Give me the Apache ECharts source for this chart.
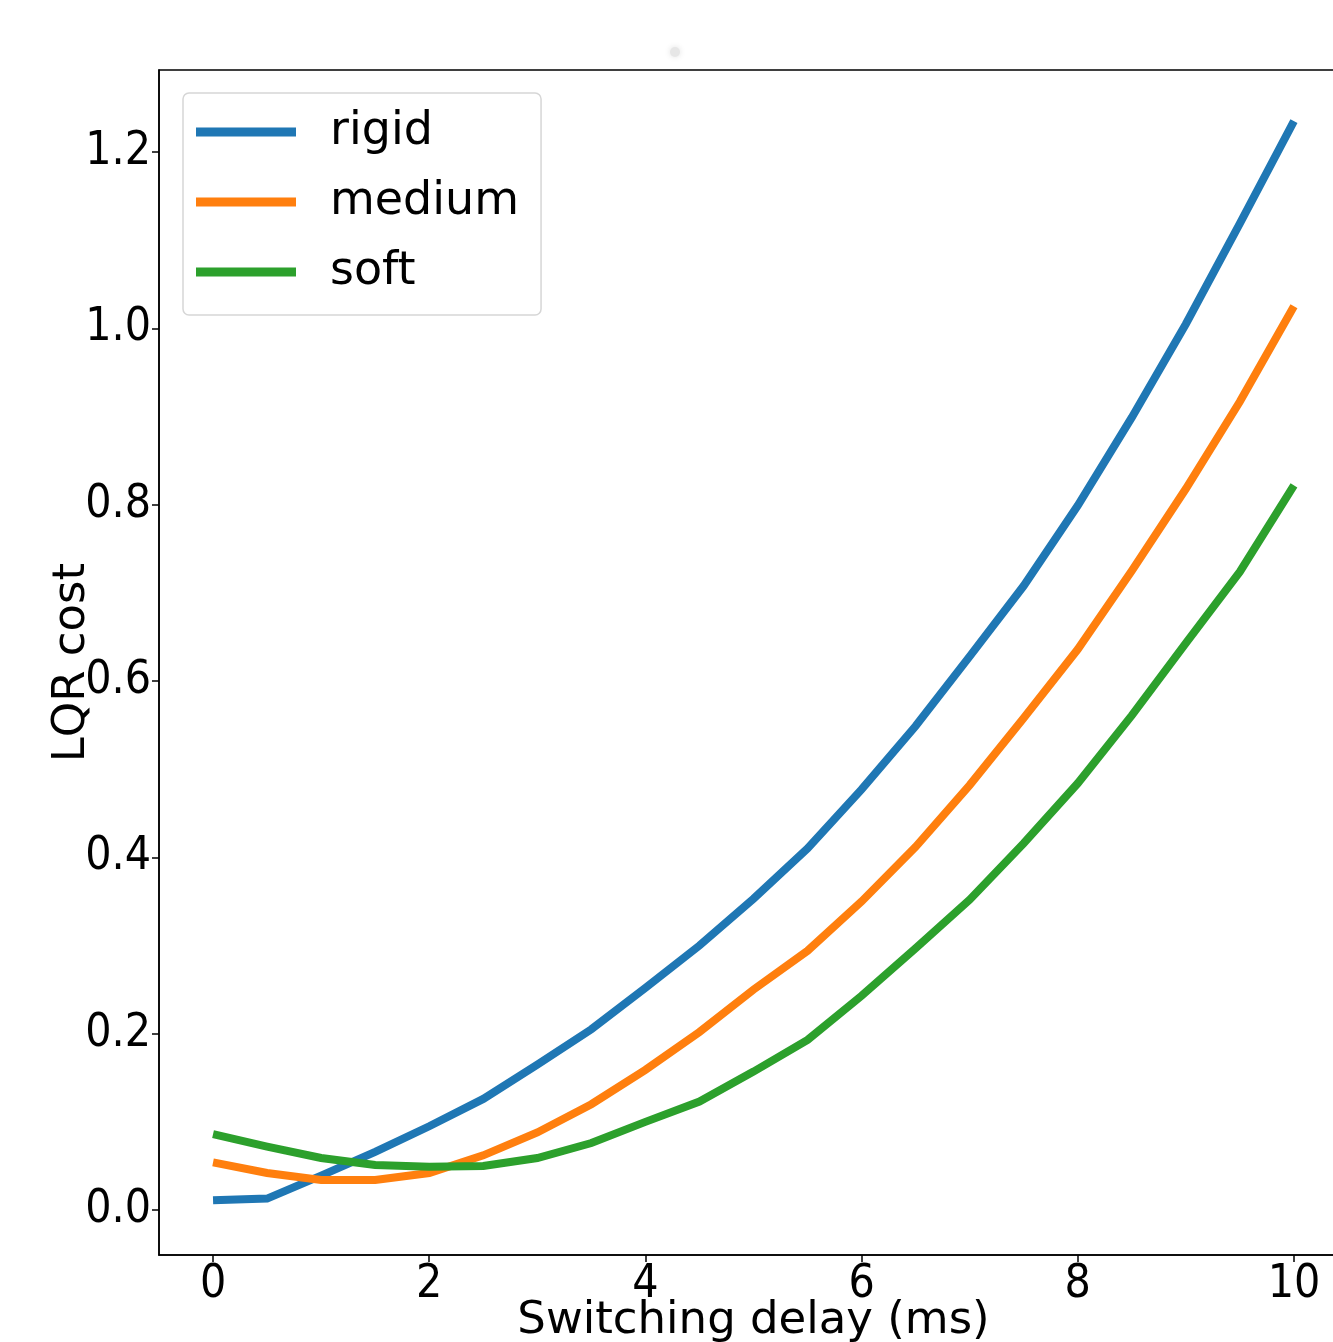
<!DOCTYPE html>
<html>
<head>
<meta charset="utf-8">
<title>LQR cost</title>
<script src="https://cdn.jsdelivr.net/npm/echarts@6/dist/echarts.min.js"></script>
<style>
  html, body { margin: 0; padding: 0; background: #fff; }
  #main { width: 1333px; height: 1342px; }
</style>
</head>
<body>
<div id="main"></div>
<script>
// switching delay (ms)
var delays = [0, 0.5, 1, 1.5, 2, 2.5, 3, 3.5, 4, 4.5, 5, 5.5, 6, 6.5, 7, 7.5, 8, 8.5, 9, 9.5, 10];
// LQR cost per stiffness
var rigid  = [0.011, 0.013, 0.039, 0.066, 0.095, 0.126, 0.165, 0.205, 0.252, 0.300, 0.353, 0.410, 0.477, 0.549, 0.628, 0.708, 0.799, 0.899, 1.005, 1.119, 1.235];
var medium = [0.054, 0.042, 0.034, 0.034, 0.042, 0.062, 0.088, 0.120, 0.159, 0.202, 0.250, 0.294, 0.350, 0.412, 0.482, 0.558, 0.636, 0.725, 0.818, 0.917, 1.025];
var soft   = [0.086, 0.072, 0.059, 0.051, 0.049, 0.050, 0.059, 0.076, 0.100, 0.123, 0.157, 0.193, 0.243, 0.297, 0.352, 0.416, 0.484, 0.561, 0.643, 0.724, 0.822];

var xTicks = [0, 2, 4, 6, 8, 10];
var yTicks = [0, 0.2, 0.4, 0.6, 0.8, 1.0, 1.2];

var seriesNames = ['rigid', 'medium', 'soft'];
var seriesValues = [rigid, medium, soft];
var colors = ['#1f77b4', '#ff7f0e', '#2ca02c'];

function pairs(vals) {
  var out = [];
  for (var i = 0; i < delays.length; i++) {
    out.push([delays[i], vals[i]]);
  }
  return out;
}

var tickFont = "'DejaVu Sans Condensed', 'DejaVu Sans'";

var myChart = echarts.init(document.getElementById('main'), null, { renderer: 'canvas' });

var series = [];
for (var k = 0; k < seriesNames.length; k++) {
  series.push({
    name: seriesNames[k],
    type: 'line',
    data: pairs(seriesValues[k]),
    showSymbol: false,
    symbol: 'none',
    animation: false,
    lineStyle: { color: colors[k], width: 8, cap: 'butt', join: 'miter' },
    itemStyle: { color: colors[k] }
  });
}

var option = {
  backgroundColor: '#fff',
  animation: false,
  grid: {
    left: 159,
    top: 70,
    width: 1189,
    height: 1185,
    outerBoundsMode: 'none',
    containLabel: false,
    show: true,
    borderColor: '#000',
    borderWidth: 1.5,
    backgroundColor: 'transparent'
  },
  legend: {
    data: seriesNames,
    orient: 'vertical',
    left: 183,
    top: 93,
    icon: 'rect',
    itemWidth: 100,
    itemHeight: 9,
    itemGap: 20,
    padding: [14, 22, 18, 13],
    backgroundColor: '#fff',
    borderColor: '#d6d6d6',
    borderWidth: 1.5,
    borderRadius: 6,
    textStyle: {
      fontFamily: 'DejaVu Sans',
      fontSize: 46,
      color: '#000',
      lineHeight: 50,
      padding: [0, 0, 0, 29]
    }
  },
  xAxis: {
    type: 'value',
    min: -0.5,
    max: 10.5,
    name: 'Switching delay (ms)',
    nameLocation: 'middle',
    nameGap: 44,
    nameMoveOverlap: false,
    nameTextStyle: { fontFamily: 'DejaVu Sans', fontSize: 45, color: '#000' },
    splitLine: { show: false },
    axisLine: { show: true, onZero: false, lineStyle: { color: '#000', width: 1.5 } },
    axisTick: { show: true, inside: false, length: 7, customValues: xTicks, lineStyle: { color: '#000', width: 1.5 } },
    axisLabel: {
      customValues: xTicks,
      fontFamily: tickFont,
      fontSize: 46,
      color: '#000',
      margin: 7
    }
  },
  yAxis: {
    type: 'value',
    min: -0.051,
    max: 1.293,
    name: 'LQR cost',
    nameLocation: 'middle',
    nameGap: 64,
    nameMoveOverlap: false,
    nameRotate: 90,
    nameTextStyle: { fontFamily: 'DejaVu Sans', fontSize: 45, color: '#000' },
    splitLine: { show: false },
    axisLine: { show: true, onZero: false, lineStyle: { color: '#000', width: 1.5 } },
    axisTick: { show: true, inside: false, length: 7, customValues: yTicks, lineStyle: { color: '#000', width: 1.5 } },
    axisLabel: {
      customValues: yTicks,
      fontFamily: tickFont,
      fontSize: 46,
      color: '#000',
      margin: 8,
      formatter: function (v) { return v.toFixed(1); }
    }
  },
  graphic: [
    {
      type: 'circle',
      shape: { cx: 675, cy: 52, r: 5 },
      style: { fill: '#e6e6e6', shadowBlur: 6, shadowColor: '#e0e0e0' },
      silent: true
    }
  ],
  series: series
};

myChart.setOption(option);
</script>
</body>
</html>
